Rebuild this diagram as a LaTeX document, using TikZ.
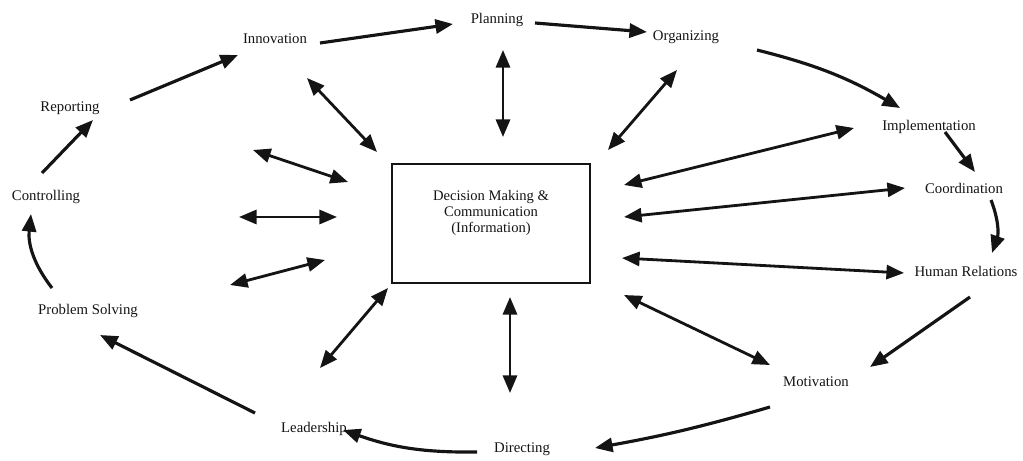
\documentclass[tikz,border=0pt]{standalone}
\usepackage{fontspec}
\setmainfont{Liberation Serif}
\usetikzlibrary{arrows.meta,calc}
\definecolor{InkBlack}{RGB}{20,20,20}
\tikzset{
    stage/.style={inner sep=1pt, text=InkBlack, font=\fontsize{8.4}{9}\selectfont},
    flow/.style={draw=InkBlack, line width=1.8pt, -{Triangle[length=10pt,width=8pt]}},
    twoway/.style={draw=InkBlack, line width=1.6pt, {Triangle[length=10pt,width=8pt]}-{Triangle[length=10pt,width=8pt]}},
    dmbox/.style={draw=InkBlack, line width=1.6pt, minimum width=3.96cm, minimum height=2.38cm, inner sep=0pt}
}

\begin{document}
\begin{tikzpicture}[x=0.02cm, y=-0.02cm]
\useasboundingbox (0,0) rectangle (1023,460);
%Center
\node[dmbox] (dm) at (491,223.5) {};
\node[stage, align=center, font=\fontsize{8.3}{9.2}\selectfont] (dmtext) at (491,213) {Decision Making \&\\Communication\\(Information)};
%Stages
\node[stage] (plan) at (497,20) {Planning};
\node[stage] (innov) at (275,39) {Innovation};
\node[stage] (org) at (686,37) {Organizing};
\node[stage] (rep) at (70,108) {Reporting};
\node[stage] (impl) at (929,127) {Implementation};
\node[stage] (ctrl) at (46,197) {Controlling};
\node[stage] (coord) at (964,188) {Coordination};
\node[stage] (hr) at (966,271) {Human Relations};
\node[stage] (ps) at (88,311) {Problem Solving};
\node[stage] (mot) at (816,382) {Motivation};
\node[stage] (lead) at (314,429) {Leadership};
\node[stage] (dir) at (522,449) {Directing};
%Cycle
\draw[flow] ($(innov)+(45,4)$) -- ($(plan)+(-44,4)$);
\draw[flow] ($(plan)+(38,3)$) -- ($(org)+(-39,-5)$);
\draw[flow] ($(org)+(71,13)$) to[bend left=8] ($(impl)+(-29,-19)$);
\draw[flow] ($(impl)+(16,5)$) -- ($(coord)+(11,-16)$);
\draw[flow] ($(coord)+(27,12)$) to[bend left=20] ($(hr)+(26,-18)$);
\draw[flow] ($(hr)+(4,26)$) -- ($(mot)+(54,-15)$);
\draw[flow] ($(mot)+(-46,25)$) to[bend left=3] ($(dir)+(73,-1)$);
\draw[flow] ($(dir)+(-45,3)$) to[bend left=10] ($(lead)+(29,1)$);
\draw[flow] ($(lead)+(-59,-16)$) -- ($(ps)+(12,24)$);
\draw[flow] ($(ps)+(-36,-23)$) to[bend left=22] ($(ctrl)+(-15,17)$);
\draw[flow] ($(ctrl)+(-4,-24)$) -- ($(rep)+(23,12)$);
\draw[flow] ($(rep)+(60,-8)$) -- ($(innov)+(-37,16)$);
%Links to center
\coordinate (lefttop) at (253,150);
\coordinate (leftmid) at (239,217);
\coordinate (leftlow) at (230,285);
\draw[twoway] ($(innov)+(32,39)$) -- ($(dm)+(-114,-71.5)$);
\draw[twoway] ($(plan)+(6,30)$) -- ($(dm)+(12,-86.5)$);
\draw[twoway] ($(org)+(-9,33)$) -- ($(dm)+(117,-73.5)$);
\draw[twoway] ($(impl)+(-75,1)$) -- ($(dm)+(133,-38.5)$);
\draw[twoway] ($(coord)+(-59,0)$) -- ($(dm)+(133,-6.5)$);
\draw[twoway] ($(hr)+(-62,2)$) -- ($(dm)+(131,34.5)$);
\draw[twoway] ($(mot)+(-46,-17)$) -- ($(dm)+(133,71.5)$);
\draw[twoway] ($(dm)+(19,73.5)$) -- ($(dir)+(-12,-56)$);
\draw[twoway] ($(lead)+(6,-61)$) -- ($(dm)+(-103,64.5)$);
\draw[twoway] (lefttop) -- ($(dm)+(-143,-41.5)$);
\draw[twoway] (leftmid) -- ($(dm)+(-154,-6.5)$);
\draw[twoway] (leftlow) -- ($(dm)+(-166,36.5)$);
\end{tikzpicture}
\end{document}
